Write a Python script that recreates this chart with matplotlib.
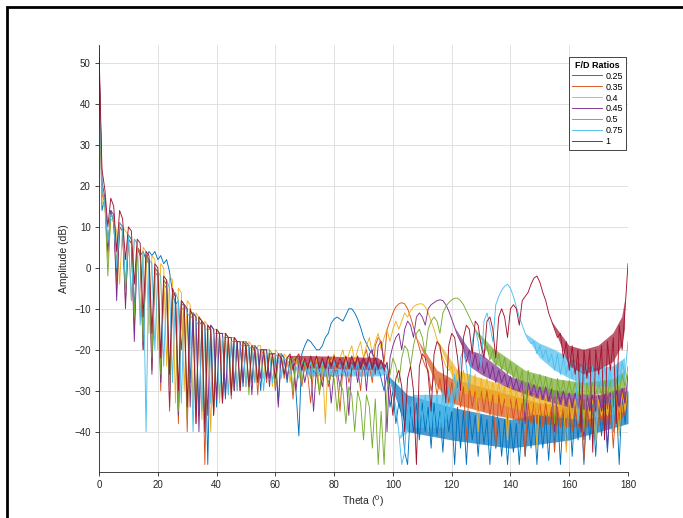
import numpy as np
import matplotlib.pyplot as plt
from matplotlib.patches import Rectangle

plt.rcParams['font.family'] = ['Liberation Sans', 'DejaVu Sans']
plt.rcParams['mathtext.fontset'] = 'custom'
plt.rcParams['mathtext.rm'] = 'Liberation Sans'
plt.rcParams['mathtext.it'] = 'Liberation Sans'

# theta sample grid (deg), values in dB at 1 deg steps
theta = np.arange(0, 181)

amp_025 = [
    50, 14, 17, 5, 14, 11, -2, 10, 9, -5,
    7, 6, -10, 5, 3, 4, 2, 4, 3, 4,
    2, 3, 1, 2, -1, -6, -9, -8, -20, -9,
    -10, -28, -11, -12, -36, -13, -14, -48, -14, -15,
    -34, -16, -16, -32, -17, -17, -30, -18, -18, -29,
    -19, -19, -28, -19, -20, -30, -20, -20, -27, -21,
    -21, -33, -21, -22, -28, -22, -22, -30, -41, -21,
    -19, -17.5, -18, -19, -20, -20, -19, -17, -16, -13.5,
    -12.5, -12, -12.5, -13, -11.5, -10, -10, -11, -12.5, -14.5,
    -17, -18.5, -20, -21, -22, -24, -27, -30, -26, -34,
    -30, -38, -33, -36, -45, -48, -34, -40, -33, -42,
    -33, -40, -34, -44, -33, -41, -35, -45, -34, -40,
    -35, -48, -34, -44, -35, -48, -35, -42, -36, -46,
    -36, -43, -37, -48, -36, -44, -37, -46, -37, -48,
    -38, -45, -38, -48, -37, -46, -37, -44, -36, -48,
    -36, -44, -36, -47, -35, -43, -35, -48, -35, -43,
    -34, -46, -34, -42, -34, -48, -33, -42, -33, -46,
    -33, -41, -32, -45, -32, -40, -32, -48, -31, -38,
    -30]

amp_035 = [
    51, 18, 16, 3, 13, 12, -5, 10, 9, -8,
    7, 6, -15, 5, 3, -20, 2, 1, -25, -1,
    -2, -30, -4, -5, -35, -7, -8, -38, -10, -10,
    -40, -12, -12, -38, -13, -14, -48, -15, -15, -36,
    -16, -16, -33, -17, -17, -32, -18, -18, -30, -19,
    -19, -29, -20, -20, -31, -20, -21, -28, -21, -21,
    -30, -22, -22, -27, -23, -23, -32, -23, -24, -29,
    -24, -26, -33, -25, -26, -30, -27, -24, -29, -26,
    -24, -27, -35, -24, -23, -28, -25, -22, -24, -30,
    -22, -20, -24, -28, -19, -17, -18, -23, -15, -13,
    -11, -9.5, -8.8, -8.5, -8.8, -10, -12, -14.5, -17, -19.5,
    -22, -24, -25, -30, -26, -31, -27, -32, -27, -33,
    -28, -33, -28, -34, -29, -42, -29, -34, -30, -35,
    -30, -35, -30, -36, -31, -44, -31, -36, -32, -37,
    -32, -37, -32, -38, -33, -46, -33, -38, -33, -38,
    -33, -39, -33, -38, -34, -45, -34, -39, -34, -39,
    -34, -40, -34, -39, -34, -47, -34, -39, -34, -39,
    -33, -38, -33, -38, -33, -44, -32, -37, -31, -36,
    -30]

amp_040 = [
    50, 16, 15, 2, 12, 11, 9, -4, 10, 9,
    8, -8, 7, 6, -12, 5, 4, -16, 3, 2,
    -20, 1, 0, -24, -2, -3, -33, -5, -6, -30,
    -8, -9, -34, -11, -12, -37, -13, -14, -40, -15,
    -15, -33, -16, -16, -31, -17, -17, -30, -18, -18,
    -29, -18, -19, -28, -19, -19, -27, -20, -20, -29,
    -20, -21, -26, -21, -22, -28, -22, -22, -26, -23,
    -22, -25, -23, -24, -22, -30, -23, -38, -22, -23,
    -21, -25, -22, -20, -24, -21, -19, -23, -20, -18,
    -22, -19, -17, -21, -18, -16, -20, -17, -15, -18,
    -15, -13, -15, -13, -11, -12, -10.5, -9.5, -9, -8.8,
    -8.8, -9.5, -11, -13, -15, -17.5, -20, -22, -24, -25,
    -24, -29, -25, -30, -25, -30, -26, -31, -26, -40,
    -27, -31, -27, -32, -28, -32, -28, -33, -29, -42,
    -29, -33, -30, -34, -30, -34, -30, -35, -31, -44,
    -31, -35, -31, -36, -32, -36, -32, -36, -32, -45,
    -32, -37, -32, -37, -32, -37, -32, -36, -32, -43,
    -32, -36, -31, -36, -31, -35, -31, -41, -30, -35,
    -28]

amp_045 = [
    51, 21, 17, 4, 14, 13, -8, 11, 10, -10,
    8, 7, -18, 5, 4, -20, 3, 2, -26, 0,
    -1, -28, -3, -4, -34, -6, -7, -36, -9, -9,
    -10, -34, -11, -12, -40, -13, -14, -36, -14, -15,
    -32, -16, -16, -31, -17, -17, -30, -18, -18, -28,
    -18, -19, -31, -19, -20, -27, -20, -20, -29, -21,
    -21, -34, -21, -22, -27, -22, -23, -30, -23, -23,
    -28, -24, -24, -35, -24, -25, -29, -24, -24, -33,
    -25, -25, -29, -24, -26, -36, -24, -23, -28, -23,
    -22, -30, -21, -20, -26, -19, -18, -24, -40, -22,
    -19, -17, -16, -20, -15, -13, -14, -17, -12, -11,
    -12, -14, -10, -9, -8.5, -8, -7.8, -8, -9, -10.5,
    -12.5, -14.5, -16.5, -18, -19.5, -23, -20, -24, -21, -25,
    -22, -26, -23, -27, -24, -28, -25, -28, -26, -29,
    -26.5, -29.5, -27, -30, -27.5, -38, -28, -31, -28.5, -31.5,
    -29, -32, -29, -32.5, -29.5, -40, -30, -33, -30, -33.5,
    -30.5, -34, -30.5, -34, -31, -42, -31, -35, -31, -35,
    -31, -35, -31, -44, -30.5, -34, -30, -34, -29.5, -33,
    -26]

amp_050 = [
    50, 19, 16, -2, 13, 12, 1, 11, 10, -6,
    8, 7, -12, 5, 4, -18, 3, 1, -22, 0,
    -1, -26, -3, -4, -30, -6, -7, -35, -8, -9,
    -37, -11, -11, -34, -12, -13, -38, -14, -15, -35,
    -15, -16, -33, -16, -17, -30, -17, -18, -29, -18,
    -18, -31, -19, -19, -28, -20, -20, -27, -20, -21,
    -29, -21, -21, -26, -22, -22, -30, -22, -23, -28,
    -23, -24, -27, -23, -24, -31, -24, -25, -28, -26,
    -27, -35, -28, -30, -38, -29, -31, -40, -30, -33,
    -42, -31, -34, -44, -32, -48, -35, -48, -30, -26,
    -22, -24, -28, -22, -19, -20, -24, -19, -16, -15,
    -17, -21, -15, -13, -12, -13, -16, -11, -9.5, -8.5,
    -7.8, -7.4, -7.4, -8, -9, -10.5, -12, -13.5, -15, -16.5,
    -18, -21, -19, -22.5, -20, -24, -21, -25, -22, -26,
    -23, -27, -24, -28, -25, -35, -25, -29, -26, -29.5,
    -26, -30, -26.5, -30.5, -27, -38, -27, -31, -27.5, -31,
    -27.5, -31, -28, -31.5, -28, -40, -28, -31.5, -28, -31,
    -28, -31, -27.5, -31, -27.5, -36, -27, -30, -26, -29,
    -24]

amp_075 = [
    50, 20, 15, 6, 13, 12, 0, 11, 10, -4,
    8, -8, 7, 6, -14, 4, -40, 2, 1, -20,
    -1, -2, -24, -3, -5, -28, -6, -8, -33, -9,
    -11, -12, -40, -13, -14, -35, -15, -15, -33, -16,
    -16, -32, -17, -17, -31, -18, -18, -30, -19, -19,
    -29, -19, -20, -28, -20, -20, -30, -21, -21, -28,
    -21, -22, -27, -22, -23, -26, -23, -24, -27, -23,
    -23.5, -26, -23, -26.5, -23.5, -26, -23, -26.5, -23.5, -26,
    -23, -26.5, -23.5, -26, -23, -26.5, -23.5, -26, -23, -26.5,
    -23.5, -26, -23, -26.5, -23.5, -26, -23.5, -26, -24, -27,
    -30, -34, -40, -48, -45, -33, -38, -31, -39, -32,
    -37, -31, -40, -32, -38, -31, -39, -30, -37, -29,
    -35, -26, -32, -22, -20, -24, -30, -18, -15, -18,
    -24, -13, -11, -14, -18, -9, -7, -5.5, -4.5, -4,
    -5, -7, -9.5, -12, -14, -16, -17.5, -18.5, -18, -21,
    -19, -22, -20, -23, -21, -25, -21, -26, -22, -26,
    -22, -27, -23, -38, -24, -28, -24, -29, -24, -42,
    -25, -29, -24, -29, -24, -40, -24, -28, -23, -26,
    -18]

amp_100 = [
    53, 24, 19, 10, 17, 15, 4, 14, 12, 2,
    10, 9, -4, 7, 6, -12, 4, 3, -16, 1,
    0, -22, -2, -3, -26, -5, -7, -30, -8, -9,
    -34, -10, -12, -38, -12, -13, -40, -14, -15, -36,
    -15, -16, -33, -16, -17, -31, -17, -18, -30, -18,
    -19, -29, -19, -20, -28, -20, -20, -27, -21, -21,
    -27, -21, -22, -26, -22, -21, -25, -22, -21, -25,
    -22, -24.5, -21.5, -24, -21.5, -24.5, -22, -24.5, -21.5, -24,
    -21.5, -24.5, -22, -24, -21.5, -24.5, -21.5, -24, -21.5, -24.5,
    -22, -24, -21.5, -24.5, -22, -24.5, -22.5, -25, -23, -29,
    -36, -27, -25, -29, -40, -27, -24, -30, -48, -24,
    -21, -22, -26, -35, -21, -18, -19, -24, -33, -19,
    -16, -17, -22, -30, -17, -14, -15, -21, -13, -14,
    -19, -22, -13, -12, -15, -22, -12, -10, -12, -17,
    -10, -9, -10, -14, -8, -7, -6, -4, -2.5, -2,
    -3.5, -6, -8, -11, -13, -15, -17, -16, -22, -18,
    -25, -19, -26, -20, -40, -20, -27, -20, -45, -20,
    -26, -19, -42, -18, -25, -17, -38, -14, -20, -10,
    1]

# dense ripple regions (envelopes), NaN separates segments
band_t_025 = [98, 105, 120, 140, 160, 180]
band_lo_025 = [-26, -40, -42, -44, -42, -38]
band_hi_025 = [-26, -31, -34, -37, -34, -30]

band_t_035 = [108, 115, 120, 135, 150, 165, 175, 179]
band_lo_035 = [-17, -29, -33, -36, -38, -39, -38, -36]
band_hi_035 = [-17, -25, -27, -30, -33, -34, -33, -30]

band_t_040 = [115, 122, 135, 150, 165, 179]
band_lo_040 = [-17.5, -30, -33, -36, -37, -35]
band_hi_040 = [-17.5, -25, -28, -31, -32, -29]

band_t_045 = [121, 126, 130, 140, 150, 160, 170, 179]
band_lo_045 = [-14.5, -24, -26, -29.5, -32, -34, -35, -33]
band_hi_045 = [-14.5, -20, -21, -26.5, -29, -30.5, -31, -29]

band_t_050 = [128, 134, 145, 155, 165, 175, 179]
band_lo_050 = [-15, -23, -28.5, -30.5, -31, -30.5, -29]
band_hi_050 = [-15, -19.5, -25, -27, -28, -27, -25]

band_t_075 = [68, 72, 95, 99, np.nan, 102, 107, 118, 123, np.nan,
              145, 150, 155, 160, 165, 170, 175, 179]
band_lo_075 = [-24, -26.5, -26.5, -26, np.nan, -42, -39, -39, -30, np.nan,
               -16, -22, -25, -27, -28.5, -29, -29, -27]
band_hi_075 = [-24, -23, -23, -26, np.nan, -42, -31, -31, -26, np.nan,
               -16, -18.5, -20, -22, -24, -24.5, -24, -22]

band_t_100 = [64, 70, 95, 98, np.nan, 154, 160, 165, 170, 175, 178, 179]
band_lo_100 = [-21.5, -24.5, -25, -24, np.nan, -13, -24, -26, -25, -23, -19, -15]
band_hi_100 = [-21.5, -21.5, -22, -24, np.nan, -13, -19, -20, -19, -16, -12, -8]

labels = ['0.25', '0.35', '0.4', '0.45', '0.5', '0.75', '1']
colors = ['#0072BD', '#D95319', '#EDB120', '#7E2F8E', '#77AC30', '#4DBEEE', '#A2142F']
series = [amp_025, amp_035, amp_040, amp_045, amp_050, amp_075, amp_100]
bands = [(band_t_025, band_lo_025, band_hi_025), (band_t_035, band_lo_035, band_hi_035),
         (band_t_040, band_lo_040, band_hi_040), (band_t_045, band_lo_045, band_hi_045),
         (band_t_050, band_lo_050, band_hi_050), (band_t_075, band_lo_075, band_hi_075),
         (band_t_100, band_lo_100, band_hi_100)]

for s in series:
    assert len(s) == len(theta), len(s)

fig = plt.figure(figsize=(6.83, 5.18), dpi=100)
ax = fig.add_axes([0.145, 0.089, 0.7745, 0.8243])

handles = []
for amp, (bt, blo, bhi), c, lab in zip(series, bands, colors, labels):
    ax.fill_between(np.array(bt, float), np.array(blo, float), np.array(bhi, float),
                    color=c, alpha=0.7, lw=0)
    h, = ax.plot(theta, amp, color=c, lw=0.65, label=lab)
    handles.append(h)

ax.set_xlim(0, 180)
ax.set_ylim(-49.8, 54.4)
ax.set_xticks(np.arange(0, 181, 20))
ax.set_yticks(np.arange(-40, 51, 10))
ax.grid(True, color='#dcdcdc', lw=0.6)
ax.set_axisbelow(True)
for side in ['top', 'right']:
    ax.spines[side].set_visible(False)
for side in ['left', 'bottom']:
    ax.spines[side].set_color('#262626')
    ax.spines[side].set_linewidth(0.6)
ax.tick_params(direction='out', length=3, width=0.6, colors='#262626',
               labelsize=7, pad=3)
ax.set_xlabel('Theta ($^{0}$)', fontsize=7.5, color='#262626', labelpad=2)
ax.set_ylabel('Amplitude (dB)', fontsize=7.5, color='#262626', labelpad=4)

leg = ax.legend(handles=handles, title='F/D Ratios', loc='upper right',
                bbox_to_anchor=(1.0, 0.975), fontsize=6.5, handlelength=3.3,
                labelspacing=0.22, borderpad=0.35, handletextpad=0.4,
                borderaxespad=0.2, fancybox=False, framealpha=1,
                edgecolor='#262626',
                title_fontproperties={'weight': 'bold', 'size': 6.5})
leg.get_frame().set_linewidth(0.6)

# outer black frame of the exported figure
fig.patches.append(Rectangle((7 / 683, -0.1), 1.2, 1.1 - 7 / 518, transform=fig.transFigure,
                             fill=False, edgecolor='black', lw=2))

fig.savefig('out.png', dpi=100)
